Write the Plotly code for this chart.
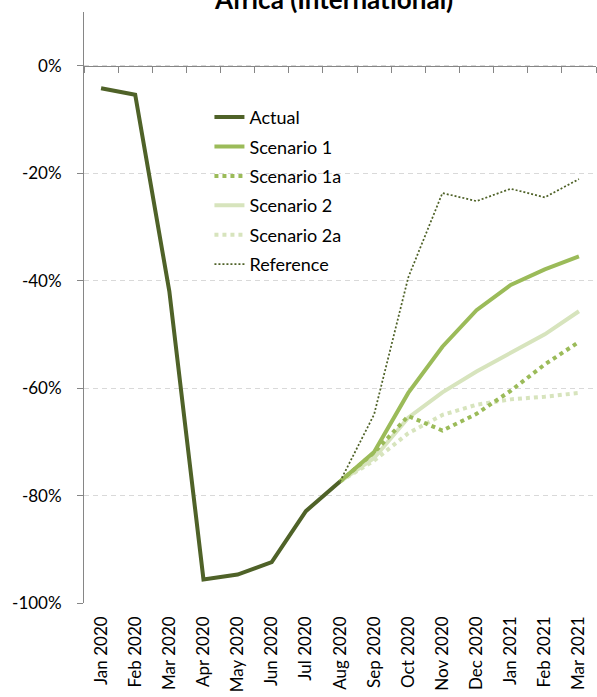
import plotly.graph_objects as go

# Monthly categories
months = ["Jan 2020", "Feb 2020", "Mar 2020", "Apr 2020", "May 2020", "Jun 2020",
          "Jul 2020", "Aug 2020", "Sep 2020", "Oct 2020", "Nov 2020", "Dec 2020",
          "Jan 2021", "Feb 2021", "Mar 2021"]

# Year-on-year change, percent
actual = [-4.2, -5.4, -42.0, -95.6, -94.7, -92.4, -82.9, -77.4,
          None, None, None, None, None, None, None]
scenario_1 = [None, None, None, None, None, None, None, -77.4,
              -71.9, -60.9, -52.3, -45.5, -40.8, -37.9, -35.5]
scenario_1a = [None, None, None, None, None, None, None, -77.4,
               -72.0, -65.2, -67.9, -64.8, -60.5, -55.6, -51.4]
scenario_2 = [None, None, None, None, None, None, None, -77.4,
              -73.0, -65.5, -60.8, -56.9, -53.4, -50.0, -45.7]
scenario_2a = [None, None, None, None, None, None, None, -77.4,
               -73.5, -68.4, -65.0, -63.1, -62.1, -61.6, -60.9]
reference = [None, None, None, None, None, None, None, -77.4,
             -64.9, -39.4, -23.7, -25.2, -22.9, -24.5, -21.1]

y_ticks = [-100, -80, -60, -40, -20, 0]
y_tick_labels = ["-100%", "-80%", "-60%", "-40%", "-20%", "0%"]

DARK = "#4F6228"
MID = "#9BBB59"
LIGHT = "#D7E4BD"
FONT = "Lato"

fig = go.Figure()

series = [
    ("Scenario 2a", scenario_2a, LIGHT, 4, "4px,4px", 5),
    ("Scenario 2", scenario_2, LIGHT, 4, "solid", 4),
    ("Scenario 1a", scenario_1a, MID, 4, "4px,4px", 3),
    ("Scenario 1", scenario_1, MID, 4, "solid", 2),
    ("Reference", reference, DARK, 1.75, "2px,2px", 6),
    ("Actual", actual, DARK, 4, "solid", 1),
]
for name, vals, color, width, dash, rank in series:
    fig.add_trace(go.Scatter(
        x=months, y=vals, name=name, mode="lines",
        line=dict(color=color, width=width, dash=dash),
        legendrank=rank, legendgroup=name,
        hoverinfo="skip",
    ))

# Carrier trace for the category axis drawn along the 0% line
fig.add_trace(go.Scatter(
    x=months, y=[None] * len(months), xaxis="x2", mode="lines",
    showlegend=False, hoverinfo="skip",
))

y_min, y_max = -100, 10

fig.update_layout(
    template="none",
    width=597, height=697,
    margin=dict(l=84, r=1, t=12, b=94),
    paper_bgcolor="white", plot_bgcolor="white",
    font=dict(family=FONT, size=16, color="#000000"),
    showlegend=True,
    legend=dict(
        x=0.245, xanchor="left", y=0.853, yanchor="top",
        bgcolor="rgba(0,0,0,0)", borderwidth=0,
        font=dict(family=FONT, size=18, color="#000000"),
        tracegroupgap=3,
    ),
    xaxis=dict(
        type="category", categoryorder="array", categoryarray=months,
        range=[-0.5, len(months) - 0.5],
        showline=False, showgrid=False, zeroline=False, ticks="",
        tickangle=-90, ticklabelstandoff=9,
        tickfont=dict(family=FONT, size=17, color="#000000"),
    ),
    xaxis2=dict(
        type="category", categoryorder="array", categoryarray=months,
        range=[-0.5, len(months) - 0.5],
        overlaying="x", anchor="free",
        position=(0 - y_min) / (y_max - y_min),
        showline=True, linecolor="#868686", linewidth=1,
        ticks="outside", ticklen=6, tickcolor="#868686", tickwidth=1,
        tickson="boundaries", showticklabels=False,
        showgrid=False, zeroline=False,
    ),
    yaxis=dict(
        range=[y_min, y_max],
        tickvals=y_ticks, ticktext=y_tick_labels,
        showline=True, linecolor="#868686", linewidth=1,
        ticks="outside", ticklen=6, tickcolor="#868686",
        showgrid=True, gridcolor="#D9D9D9", griddash="5px,4px", gridwidth=1,
        zeroline=False, ticklabelstandoff=12,
        tickfont=dict(family=FONT, size=17, color="#000000"),
    ),
    annotations=[dict(
        text="<b>Africa (International)</b>",
        xref="paper", yref="paper", x=0.488, y=1,
        xanchor="center", yanchor="bottom", yshift=-5,
        showarrow=False,
        font=dict(family=FONT, size=26, color="#000000"),
    )],
)

fig.write_html("out.html")
